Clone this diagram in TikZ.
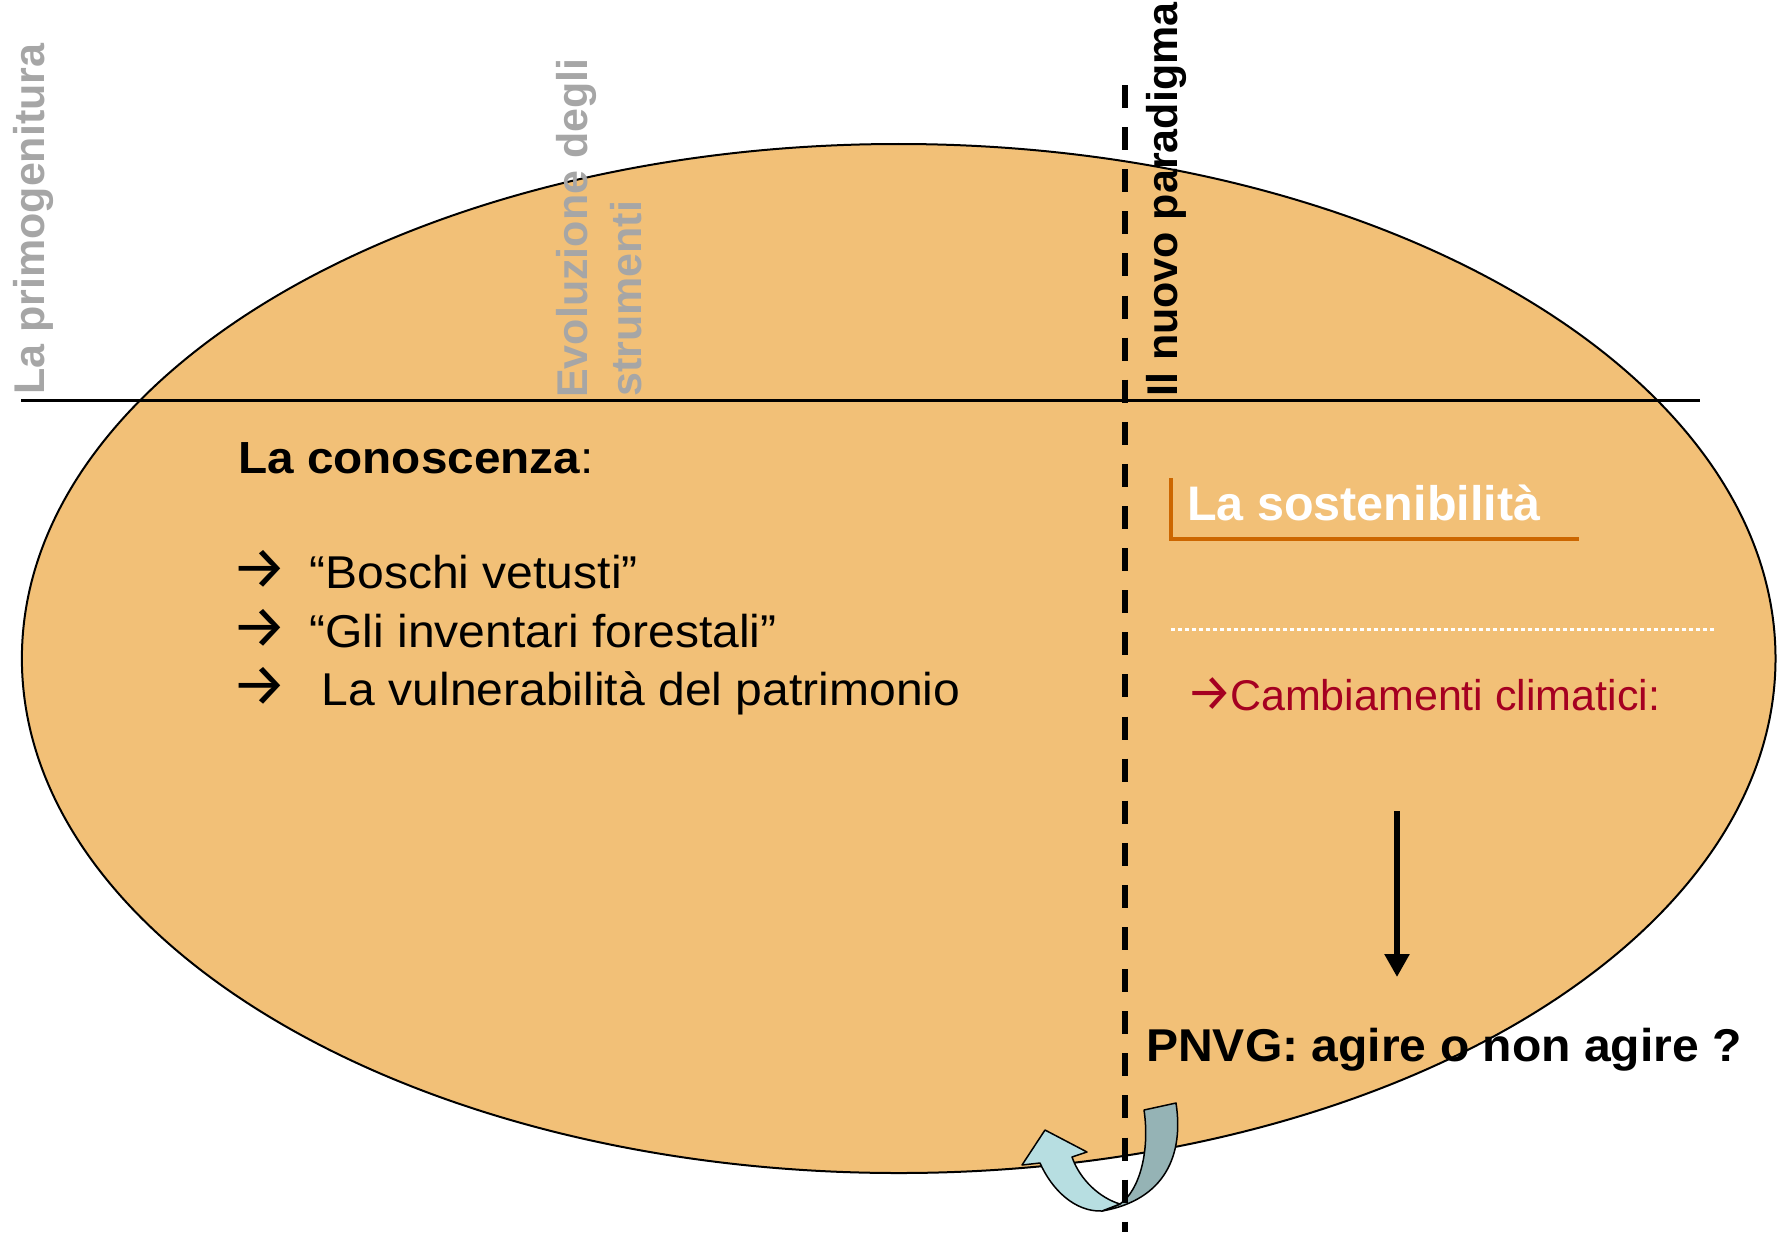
\documentclass[tikz,border=0pt]{standalone}
\usepackage{fontspec}
\setmainfont{Liberation Sans}
\newfontfamily\arrfont{Fira Sans}
\newcommand\bularr[1]{\hspace*{#1}\scalebox{1.3}{\arrfont →}}
\newcommand\redarr{\hspace*{-4bp}\scalebox{1.2}{\arrfont →}}
\usetikzlibrary{arrows.meta}
\definecolor{fillorange}{HTML}{F2C077}
\definecolor{greytxt}{HTML}{A6A6A6}
\definecolor{darkred}{HTML}{A50021}
\definecolor{bracketc}{HTML}{CC6600}
\definecolor{ribbonlight}{HTML}{B7DEE1}
\definecolor{ribbondark}{HTML}{95B3B5}
\tikzset{
  vtext/.style={rotate=90, anchor=base west, inner sep=0pt, font=\bfseries\fontsize{43bp}{52bp}\selectfont},
  htext/.style={anchor=base west, inner sep=0pt},
  ribbon/.style={draw=black, line width=1.5bp, line join=round},
}
\begin{document}
\begin{tikzpicture}[x=1bp,y=-1bp]
\useasboundingbox (0,0) rectangle (1782,1232);
\fill[white] (0,0) rectangle (1782,1232);
% main ellipse
\draw[line width=2bp, fill=fillorange] (898.7,658.5) ellipse [x radius=876.8bp, y radius=514.5bp];
% curved ribbon arrow
\fill[ribbon, fill=ribbondark] (1144,1110) -- (1176,1103)
  .. controls (1184,1155) and (1165,1200) .. (1102,1211)
  -- (1120,1204)
  .. controls (1140,1190) and (1150,1150) .. cycle;
\fill[ribbon, fill=ribbonlight] (1040,1163)
  .. controls (1052,1190) and (1075,1212) .. (1102,1211)
  -- (1120,1204)
  .. controls (1100,1198) and (1080,1180) .. (1072,1157)
  -- (1087,1152) -- (1045,1130) -- (1022,1165) -- cycle;
% coordinates
\coordinate (hl) at (21,400);
\coordinate (hr) at (1700,400);
\coordinate (vtop) at (1125,85);
\coordinate (vbot) at (1125,1232);
\coordinate (dtop) at (1397,811);
\coordinate (dtip) at (1397,977);
\coordinate (brtop) at (1171,478);
\coordinate (brcorner) at (1171,539);
\coordinate (brend) at (1579,539);
\coordinate (dotl) at (1171,629);
\coordinate (dotr) at (1716,629);
% lines
\draw[line width=3bp] (hl) -- (hr);
\draw[line width=5.5bp, dash pattern=on 23bp off 19.1bp] (vtop) -- (vbot);
\draw[bracketc, line width=3.5bp] (brtop) -- (brcorner) -- (brend);
\draw[white, line width=3bp, dash pattern=on 3.5bp off 3.5bp] (dotl) -- (dotr);
\draw[line width=5.5bp, -{Triangle[width=24bp,length=23bp]}] (dtop) -- (dtip);
% vertical texts
\node[vtext, text=greytxt] (prim) at (44.5,395) {La primogenitura};
\node[vtext, text=greytxt] (evo1) at (587,398) {Evoluzione degli};
\node[vtext, text=greytxt] (evo2) at (641,397) {strumenti};
\node[vtext] (para) at (1177,397) {Il nuovo paradigma};
% left block
\node[htext, font=\fontsize{45bp}{54bp}\selectfont, xscale=1.06] (con) at (238,473) {\textbf{La conoscenza}:};
\node[htext, font=\fontsize{46bp}{55bp}\selectfont, xscale=1.045] (b1) at (238,588) {\makebox[68bp][l]{\bularr{-6bp}}“Boschi vetusti”};
\node[htext, font=\fontsize{46bp}{55bp}\selectfont, xscale=1.045] (b2) at (238,647) {\makebox[68bp][l]{\bularr{-6bp}}“Gli inventari forestali”};
\node[htext, font=\fontsize{46bp}{55bp}\selectfont, xscale=1.045] (b3) at (238,705) {\makebox[80bp][l]{\bularr{-6bp}}La vulnerabilità del patrimonio};
% right block
\node[htext, text=white, font=\bfseries\fontsize{48.5bp}{58bp}\selectfont] (sos) at (1187,520) {La sostenibilità};
\node[htext, text=darkred, font=\fontsize{43bp}{52bp}\selectfont] (cc) at (1190,710) {\makebox[40bp][l]{\redarr}Cambiamenti climatici:};
\node[htext, font=\bfseries\fontsize{46bp}{55bp}\selectfont, xscale=1.045] (pn) at (1146,1061) {PNVG: agire o non agire ?};
\end{tikzpicture}
\end{document}
